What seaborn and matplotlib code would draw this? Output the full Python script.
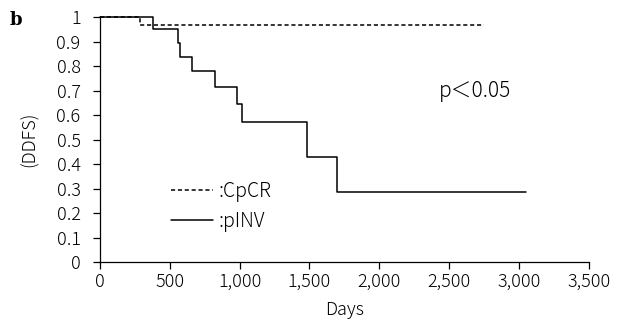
import pandas as pd
import seaborn as sns
import matplotlib.pyplot as plt
from matplotlib.lines import Line2D

# Kaplan-Meier steps
cpcr_days = [0, 286, 2750]
cpcr_ddfs = [1.0, 0.967, 0.967]
pinv_days = [0, 380, 556, 573, 661, 825, 978, 1016, 1484, 1699, 3050]
pinv_ddfs = [1.0, 0.952, 0.893, 0.836, 0.780, 0.716, 0.645, 0.573, 0.430, 0.286, 0.286]

xticks = [0, 500, 1000, 1500, 2000, 2500, 3000, 3500]
yticks = [0, 0.1, 0.2, 0.3, 0.4, 0.5, 0.6, 0.7, 0.8, 0.9, 1]

df = pd.concat([
    pd.DataFrame({'Days': cpcr_days, 'DDFS': cpcr_ddfs, 'group': 'CpCR'}),
    pd.DataFrame({'Days': pinv_days, 'DDFS': pinv_ddfs, 'group': 'pINV'}),
])

sns.set_style('ticks')
plt.rcParams['font.family'] = ['Noto Sans CJK JP', 'DejaVu Sans']
plt.rcParams['font.weight'] = 'light'
plt.rcParams['axes.labelweight'] = 'light'
plt.rcParams['text.color'] = 'black'
plt.rcParams['axes.labelcolor'] = 'black'

fig = plt.figure(figsize=(6.21, 3.3), dpi=100)
ax = fig.add_axes([0.161, 0.206, 0.787, 0.742])

sns.lineplot(data=df, x='Days', y='DDFS', style='group', color='black',
             dashes={'CpCR': (2.7, 1.8), 'pINV': ''}, drawstyle='steps-post',
             estimator=None, linewidth=1.1, legend=False, ax=ax, clip_on=False)

ax.set_xlim(0, 3500)
ax.set_ylim(0, 1)
ax.set_xticks(xticks)
ax.set_xticklabels([f'{t:,}' for t in xticks])
ax.set_yticks(yticks)
ax.set_yticklabels(['0' if t == 0 else ('1' if t == 1 else f'{t:g}') for t in yticks])
ax.tick_params(direction='out', length=5, width=0.9, labelsize=13, colors='black')
ax.tick_params(axis='y', pad=9)
ax.tick_params(axis='x', pad=3)
sns.despine(ax=ax)
for s in ['left', 'bottom']:
    ax.spines[s].set_linewidth(0.9)
    ax.spines[s].set_color('black')

ax.set_xlabel('Days', fontsize=13, labelpad=7)
ax.set_ylabel('(DDFS)', fontsize=13, labelpad=13)

handles = [Line2D([], [], color='black', lw=1.1, dashes=(2.7, 1.8)),
           Line2D([], [], color='black', lw=1.1)]
ax.legend(handles, [':CpCR', ':pINV'], frameon=False, fontsize=14,
          loc='center left', bbox_to_anchor=(0.110, 0.2265), handlelength=2.17,
          handletextpad=0.28, labelspacing=0.48)

ax.text(2430, 0.70, 'p＜0.05', fontsize=15, va='center', ha='left')
fig.text(0.016, 0.94, 'b', fontsize=13, fontweight='bold', family='DejaVu Serif',
         va='center', ha='left')

fig.savefig('out.png', dpi=100)
